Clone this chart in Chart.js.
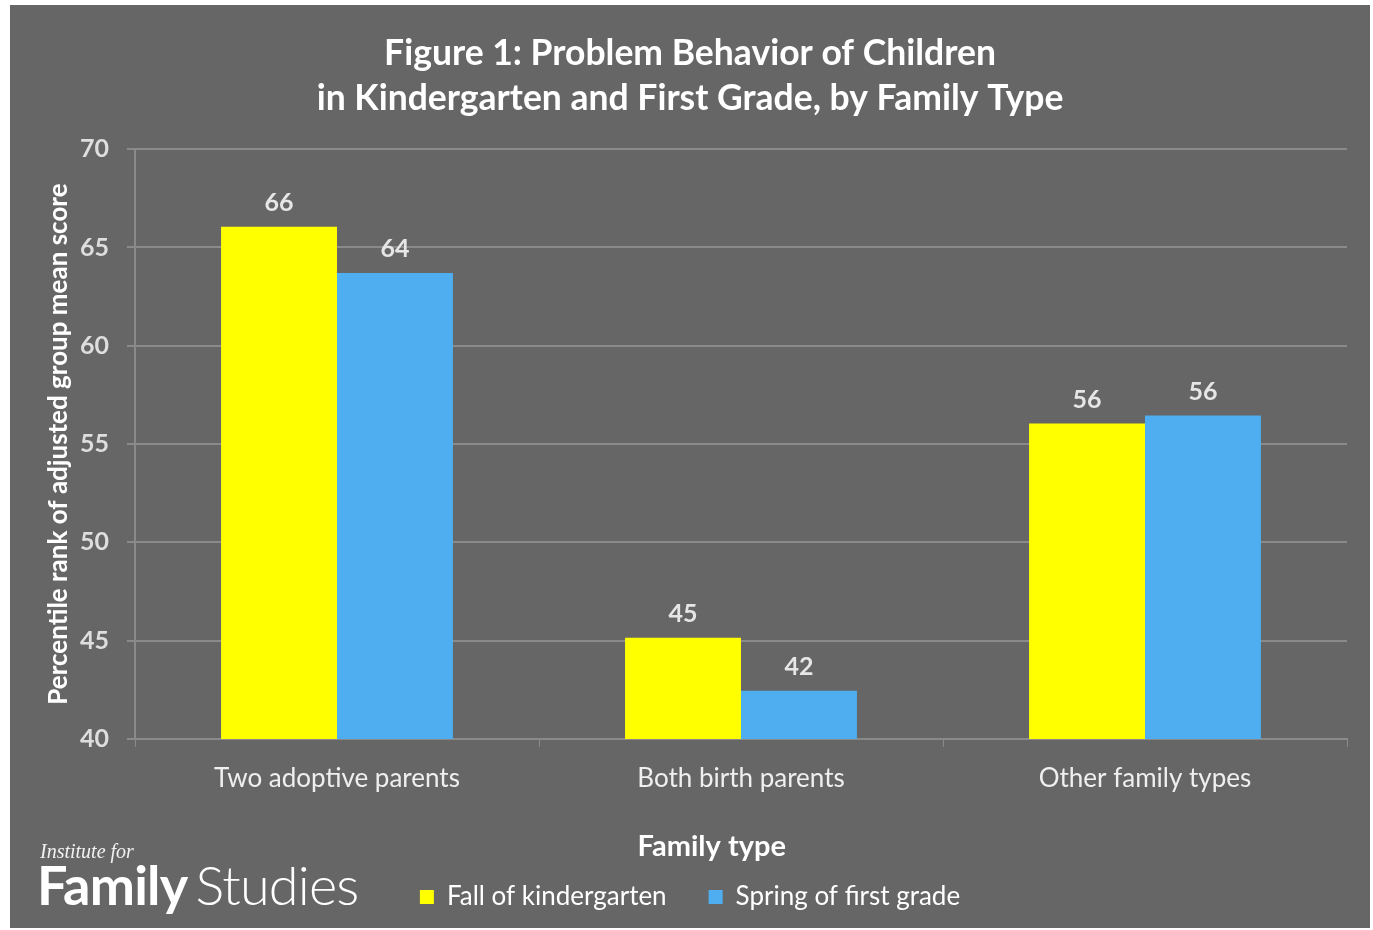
<!DOCTYPE html>
<html>
<head>
<meta charset="utf-8">
<script src="https://cdn.jsdelivr.net/npm/chart.js@4/dist/chart.umd.min.js"></script>
<style>
  html, body { margin: 0; padding: 0; background: #ffffff; }
  #panel { position: absolute; left: 10px; top: 5px; width: 1360px; height: 923px; background: #666666; }
  #panel canvas { position: absolute; left: 0; top: 0; }
  .logo1 { position: absolute; left: 30px; top: 835px; font-family: "Liberation Serif", serif; font-style: italic; font-size: 20px; color: #f2f2f2; }
  .logo2 { position: absolute; left: 27px; top: 849px; font-family: Lato, sans-serif; font-size: 54px; line-height: 62px; color: #ffffff; white-space: nowrap; letter-spacing: -0.8px; }
  .logo2 b { font-weight: 700; }
  .logo2 span { font-weight: 300; margin-left: 8px; }
</style>
</head>
<body>
<div id="panel">
  <canvas id="c"></canvas>
  <div class="logo1">Institute for</div>
  <div class="logo2"><b>Family</b><span>Studies</span></div>
</div>
<script>
const categories = ["Two adoptive parents", "Both birth parents", "Other family types"];
const seriesNames = ["Fall of kindergarten", "Spring of first grade"];
const fallValues = [66.05, 45.15, 56.05];
const springValues = [63.7, 42.45, 56.45];
const yTicks = [40, 45, 50, 55, 60, 65, 70];
const titleLines = ["Figure 1: Problem Behavior of Children", "in Kindergarten and First Grade, by Family Type"];
const yAxisTitle = "Percentile rank of adjusted group mean score";
const legendTitle = "Family type";

const FONT = "Lato, 'Open Sans', sans-serif";
const gridColor = "#8a8a8a";

const valueLabels = {
  id: "valueLabels",
  afterDatasetsDraw(chart) {
    const ctx = chart.ctx;
    ctx.save();
    ctx.font = "bold 25px " + FONT;
    ctx.fillStyle = "#e6e6e6";
    ctx.textAlign = "center";
    ctx.textBaseline = "middle";
    chart.data.datasets.forEach((ds, i) => {
      const meta = chart.getDatasetMeta(i);
      meta.data.forEach((bar, j) => {
        ctx.fillText(String(Math.round(ds.data[j])), bar.x, bar.y - 24);
      });
    });
    ctx.restore();
  }
};

new Chart(document.getElementById("c"), {
  type: "bar",
  data: {
    labels: categories,
    datasets: [
      { label: seriesNames[0], data: fallValues, backgroundColor: "#ffff00", borderWidth: 0, categoryPercentage: 0.574, barPercentage: 1.0 },
      { label: seriesNames[1], data: springValues, backgroundColor: "#4eaef0", borderWidth: 0, categoryPercentage: 0.574, barPercentage: 1.0 }
    ]
  },
  options: {
    responsive: true,
    maintainAspectRatio: false,
    animation: false,
    layout: { padding: { left: 23, right: 23, top: 10, bottom: 8 } },
    plugins: {
      title: {
        display: true,
        text: titleLines,
        color: "#ffffff",
        font: { family: FONT, size: 35.5, weight: "bold", lineHeight: 1.27 },
        padding: { top: 16, bottom: 28 }
      },
      legend: {
        display: true,
        position: "bottom",
        title: {
          display: true,
          text: "\u2002\u2002\u2002" + legendTitle,
          color: "#ffffff",
          font: { family: FONT, size: 29, weight: "bold" },
          padding: { top: 22, bottom: -25 }
        },
        labels: {
          color: "#ffffff",
          font: { family: FONT, size: 26 },
          boxWidth: 14,
          boxHeight: 14,
          padding: 42
        }
      },
      tooltip: { enabled: false }
    },
    scales: {
      x: {
        grid: { display: true, drawOnChartArea: false, drawTicks: true, tickLength: 8, color: gridColor, offset: true },
        border: { display: true, color: gridColor, width: 2 },
        ticks: { color: "#efefef", font: { family: FONT, size: 26 }, padding: 16 }
      },
      y: {
        min: 40,
        max: 70,
        afterBuildTicks(axis) { axis.ticks = yTicks.map(v => ({ value: v })); },
        afterFit(axis) { axis.width = 102; },
        grid: { color: gridColor, lineWidth: 2, tickLength: 8 },
        border: { display: true, color: gridColor, width: 2 },
        ticks: { color: "#dedede", font: { family: FONT, size: 25, weight: "bold" }, padding: 18 },
        title: {
          display: true,
          text: yAxisTitle,
          color: "#ffffff",
          font: { family: FONT, size: 26, weight: "bold" },
          padding: { top: 10, bottom: 0 }
        }
      }
    }
  },
  plugins: [valueLabels]
});
</script>
</body>
</html>
